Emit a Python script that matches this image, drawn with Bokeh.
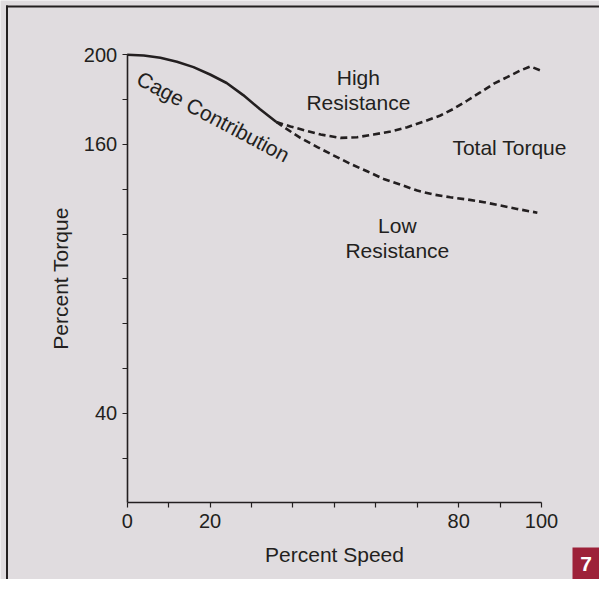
from bokeh.plotting import figure
from bokeh.models import Label, BoxAnnotation, FixedTicker, Range1d
from bokeh.embed import file_html
from bokeh.resources import INLINE

# ---- data ----
speed_cage = [0, 4, 8, 12, 16, 20, 24, 28, 32, 36]
torque_cage = [200, 199.7, 198.7, 196.9, 194.5, 191.2, 187.4, 182.0, 175.8, 170.0]

speed_high = [36, 39.4, 43.0, 46.7, 51.5, 55.5, 59.5, 63.6, 67.6, 71.6, 75.6,
              78.8, 82.1, 85.3, 88.5, 91.7, 94.9, 97.3, 99.8]
torque_high = [170.0, 168.0, 166.2, 164.4, 162.9, 163.2, 164.4, 165.8, 167.7, 170.2, 172.9,
               175.9, 179.6, 183.3, 187.1, 190.0, 193.0, 194.8, 193.0]

speed_low = [36, 37.8, 41.8, 45.9, 49.9, 53.9, 57.9, 61.9, 66.0, 70.0, 74.0,
             78.0, 82.1, 86.1, 90.1, 94.1, 99.0]
torque_low = [170.0, 167.7, 162.9, 158.8, 155.0, 151.3, 148.0, 144.6, 142.0, 139.4, 137.6,
              136.4, 135.4, 134.2, 132.7, 131.2, 129.5]

x_ticks = [0, 10, 20, 30, 40, 50, 60, 70, 80, 90, 100]
x_tick_labels = {0: "0", 20: "20", 80: "80", 100: "100"}
y_ticks = [20, 40, 60, 80, 100, 120, 140, 160, 180, 200]
y_tick_labels = {40: "40", 160: "160", 200: "200"}

BG = "#e0dcdf"
INK = "#231f20"
FONT = "Liberation Sans"

# canvas geometry (pixels): where data 0 sits and pixels per unit
W, H = 599, 579
X0PX, XPU = 126.7, 4.143
Y0PX, YPU = 502.3, 2.24

p = figure(width=W, height=H, output_backend="svg", toolbar_location=None,
           x_range=Range1d(-X0PX / XPU, (W - X0PX) / XPU),
           y_range=Range1d(-(H - Y0PX) / YPU, Y0PX / YPU),
           min_border=0, min_border_left=0, min_border_right=0,
           min_border_top=0, min_border_bottom=0)
p.background_fill_color = BG
p.border_fill_color = BG
p.outline_line_color = None
p.grid.visible = False

# axes, pinned at the data origin
p.xaxis.fixed_location = 0
p.yaxis.fixed_location = 0
p.xaxis.ticker = FixedTicker(ticks=x_ticks)
p.yaxis.ticker = FixedTicker(ticks=y_ticks)
p.xaxis.major_label_overrides = {t: x_tick_labels.get(t, "") for t in x_ticks}
p.yaxis.major_label_overrides = {t: y_tick_labels.get(t, "") for t in y_ticks}
p.xaxis.bounds = (0, 100)
p.yaxis.bounds = (0, 200)
p.xaxis.axis_label = "Percent Speed"
p.yaxis.axis_label = "Percent Torque"
for ax in (p.xaxis, p.yaxis):
    ax.axis_line_color = INK
    ax.axis_line_width = 1.6
    ax.major_tick_line_color = INK
    ax.major_tick_line_width = 1.2
    ax.major_tick_out = 5
    ax.major_tick_in = 0
    ax.minor_tick_line_color = None
    ax.major_label_text_font = FONT
    ax.major_label_text_font_size = "20px"
    ax.major_label_text_color = INK
    ax.axis_label_text_font = FONT
    ax.axis_label_text_font_size = "21px"
    ax.axis_label_text_font_style = "normal"
    ax.axis_label_text_color = INK
p.xaxis.major_label_standoff = 6
p.xaxis.axis_label_standoff = 12
p.yaxis.major_label_standoff = 5
p.yaxis.axis_label_standoff = 9

# curves
p.line(speed_cage, torque_cage, line_color=INK, line_width=2.6)
p.line(speed_high, torque_high, line_color=INK, line_width=2.6, line_dash="7 4")
p.line(speed_low, torque_low, line_color=INK, line_width=2.6, line_dash="7 4")

# annotations
def lab(x, y, t, angle=0.0):
    p.add_layout(Label(x=x, y=y, text=t, text_font=FONT, text_font_size="21px",
                       text_color=INK, text_align="center", text_baseline="middle",
                       angle=angle, angle_units="deg"))

lab(55.8, 190.0, "High")
lab(55.8, 178.7, "Resistance")
lab(92.3, 158.7, "Total Torque")
lab(65.2, 123.8, "Low")
lab(65.2, 112.6, "Resistance")
lab(20.8, 172.4, "Cage Contribution", angle=-28)

# page frame (top and left rules) and figure number box
def cbox(l, r, t, b, color):
    p.add_layout(BoxAnnotation(left=l, right=r, top=t, bottom=b,
                               left_units="canvas", right_units="canvas",
                               top_units="canvas", bottom_units="canvas",
                               fill_color=color, fill_alpha=1, line_color=None,
                               level="overlay"))

cbox(5.5, W, 5, 7, INK)
cbox(5.5, 7.5, 5, H, INK)
cbox(W - 27, W, H - 32, H, "#9d2139")
p.add_layout(Label(x=W - 13.5, y=H - 16, x_units="canvas", y_units="canvas", text="7",
                   text_font=FONT, text_font_size="21px", text_font_style="bold",
                   text_color="white", text_align="center", text_baseline="middle",
                   level="overlay"))

open("out.html", "w").write(file_html(p, INLINE))
